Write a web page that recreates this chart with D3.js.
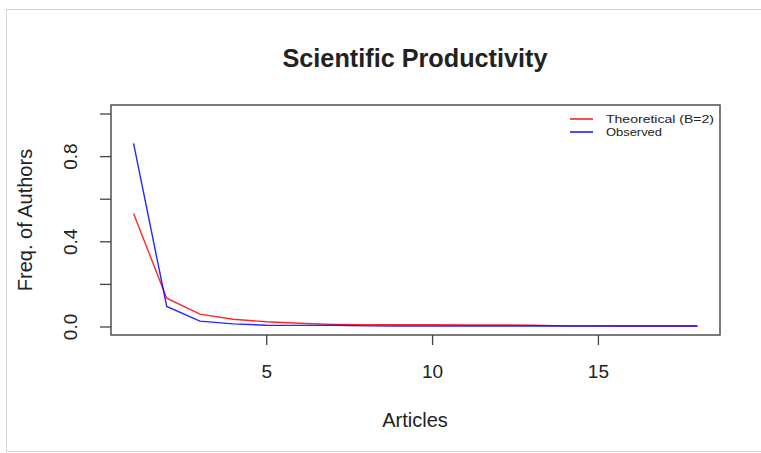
<!DOCTYPE html>
<html>
<head>
<meta charset="utf-8">
<script src="https://cdn.jsdelivr.net/npm/d3@7"></script>
<style>
  body { margin: 0; background: #fff; }
  svg text { font-family: "Liberation Sans", Arial, sans-serif; fill: #222; }
</style>
</head>
<body>
<svg id="chart" width="761" height="453"></svg>
<script>
// data
const articles = [1, 2, 3, 4, 5, 6, 7, 8, 9, 10, 11, 12, 13, 14, 15, 16, 17, 18]
const theoretical = [0.53, 0.133, 0.058, 0.034, 0.022, 0.015, 0.010, 0.008, 0.008, 0.008, 0.007, 0.007, 0.006, 0.003, 0.003, 0.002, 0.002, 0.002]
const observed = [0.86, 0.094, 0.025, 0.012, 0.006, 0.005, 0.006, 0.003, 0.002, 0.002, 0.002, 0.002, 0.002, 0.002, 0.002, 0.002, 0.002, 0.002]
const xTicks = [5, 10, 15]
const yTicks = [0, 0.2, 0.4, 0.6, 0.8, 1.0]
const yLabels = [0, 0.4, 0.8]
const seriesNames = ["Theoretical (B=2)", "Observed"]
const seriesColors = ["#ff0000", "#0000ff"]

const svg = d3.select("#chart")
const plotLeft = 111, plotRight = 720, plotTop = 105, plotBottom = 335

const x = d3.scaleLinear().domain([0.32, 18.68]).range([plotLeft, plotRight])
const y = d3.scaleLinear().domain([-0.04, 1.04]).range([plotBottom, plotTop])

// outer frame
svg.append("rect")
    .attr("x", 6.5).attr("y", 9.5)
    .attr("width", 800).attr("height", 442)
    .attr("fill", "none").attr("stroke", "#d4d4d4")

// title
svg.append("text")
    .attr("x", 415).attr("y", 67)
    .attr("text-anchor", "middle")
    .style("font-size", "26px").style("font-weight", "bold")
    .attr("textLength", 265).attr("lengthAdjust", "spacingAndGlyphs")
    .text("Scientific Productivity")

// y axis
const yAxis = svg.append("g")
    .attr("transform", `translate(${plotLeft},0)`)
    .call(d3.axisLeft(y).tickValues(yTicks).tickSize(11)
        .tickFormat(d => yLabels.includes(d) ? d3.format(".1f")(d) : ""))
yAxis.select(".domain").remove()
yAxis.selectAll("line").attr("stroke", "#444").attr("stroke-width", 1.3)
yAxis.selectAll("text")
    .attr("x", null).attr("dy", null)
    .attr("text-anchor", "middle")
    .attr("transform", "translate(-34,0) rotate(-90)")
    .style("font-size", "19px").style("fill", "#222")

// x axis
const xAxis = svg.append("g")
    .attr("transform", `translate(0,${plotBottom})`)
    .call(d3.axisBottom(x).tickValues(xTicks).tickSize(10))
xAxis.select(".domain").remove()
xAxis.selectAll("line").attr("stroke", "#444").attr("stroke-width", 1.3)
xAxis.selectAll("text")
    .attr("y", 43).attr("dy", null)
    .style("font-size", "19px").style("fill", "#222")

// plot box
svg.append("rect")
    .attr("x", plotLeft).attr("y", plotTop)
    .attr("width", plotRight - plotLeft).attr("height", plotBottom - plotTop)
    .attr("fill", "none").attr("stroke", "#444").attr("stroke-width", 1.4)

// axis titles
svg.append("text")
    .attr("x", 415).attr("y", 427)
    .attr("text-anchor", "middle")
    .style("font-size", "20px")
    .text("Articles")
svg.append("text")
    .attr("transform", "translate(32,220) rotate(-90)")
    .attr("text-anchor", "middle")
    .style("font-size", "20px")
    .text("Freq. of Authors")

// lines
const line = d3.line()
    .x((d, i) => x(articles[i]))
    .y(d => y(d))
const series = [theoretical, observed]
svg.append("g")
    .selectAll("path")
    .data(series)
    .join("path")
    .attr("d", line)
    .attr("fill", "none")
    .attr("stroke", (d, i) => seriesColors[i])
    .attr("stroke-width", 1.4)
    .attr("stroke-opacity", 0.85)

// legend
const legend = svg.append("g")
    .selectAll("g")
    .data(seriesNames)
    .join("g")
    .attr("transform", (d, i) => `translate(570,${119 + i * 13})`)
legend.append("line")
    .attr("x1", 0).attr("x2", 23)
    .attr("stroke", (d, i) => seriesColors[i])
    .attr("stroke-width", 1.4)
legend.append("text")
    .attr("x", 36).attr("y", 4)
    .style("font-size", "11px")
    .attr("textLength", (d, i) => i === 0 ? 108 : 56)
    .attr("lengthAdjust", "spacingAndGlyphs")
    .text(d => d)
</script>
</body>
</html>
